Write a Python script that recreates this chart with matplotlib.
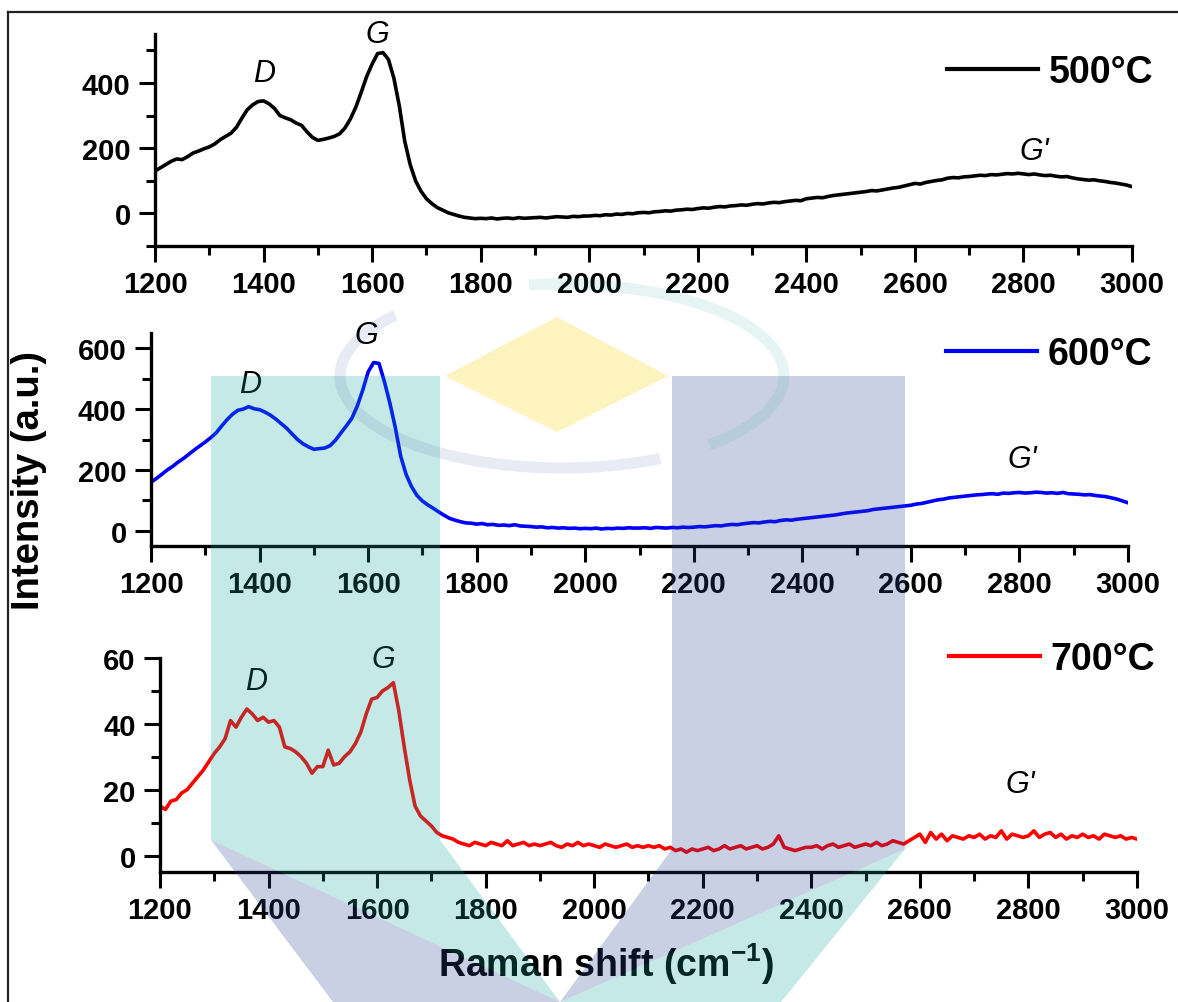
import numpy as np
import matplotlib.pyplot as plt
from matplotlib.patches import Polygon, Rectangle, Arc

plt.rcParams['font.family'] = ['Liberation Sans', 'DejaVu Sans']
plt.rcParams['mathtext.fontset'] = 'custom'
plt.rcParams['mathtext.rm'] = 'Liberation Sans:bold'
plt.rcParams['mathtext.bf'] = 'Liberation Sans:bold'

# Raman shift sampling (cm-1)
shift = np.arange(1200, 3001, 10)

# 500 C sample
t500 = [130, 140, 150, 160, 167, 165, 174, 185, 191, 198,
        204, 213, 226, 236, 246, 264, 292, 318, 333, 343,
        345, 336, 322, 300, 293, 287, 277, 270, 250, 233,
        224, 227, 231, 236, 244, 262, 290, 326, 372, 420,
        458, 490, 493, 472, 415, 330, 222, 150, 100, 68,
        45, 30, 18, 10, 2, -3, -8, -12, -14, -16,
        -15, -16, -14, -17, -15, -14, -16, -13, -15, -14,
        -13, -12, -14, -12, -10, -11, -12, -9, -10, -8,
        -8, -6, -7, -4, -5, -2, -3, 0, -1, 2,
        3, 2, 5, 6, 8, 7, 10, 11, 13, 12,
        15, 17, 16, 19, 21, 20, 23, 24, 26, 25,
        28, 30, 29, 32, 34, 33, 36, 38, 40, 39,
        45, 47, 49, 48, 52, 55, 57, 59, 61, 63,
        65, 67, 70, 69, 72, 75, 78, 80, 84, 88,
        92, 90, 95, 98, 101, 103, 108, 110, 109, 112,
        113, 115, 117, 116, 119, 118, 120, 122, 121, 123,
        121, 119, 121, 118, 116, 117, 114, 112, 113, 109,
        106, 104, 102, 103, 100, 98, 95, 93, 90, 87,
        82]

# 600 C sample
t600 = [160, 172, 186, 200, 212, 226, 238, 252, 266, 279,
        292, 306, 322, 344, 365, 383, 396, 400, 408, 401,
        398, 390, 380, 367, 352, 337, 318, 300, 286, 276,
        268, 270, 272, 280, 298, 322, 345, 370, 410, 462,
        522, 553, 550, 490, 420, 340, 245, 185, 145, 116,
        98, 85, 74, 62, 51, 41, 35, 30, 26, 25,
        22, 24, 20, 21, 18, 19, 17, 20, 16, 15,
        14, 12, 13, 10, 11, 9, 10, 8, 9, 7,
        8, 7, 9, 6, 8, 7, 9, 8, 10, 9,
        9, 10, 8, 11, 10, 9, 11, 10, 12, 11,
        12, 14, 13, 15, 17, 16, 19, 21, 20, 23,
        25, 27, 26, 29, 31, 30, 34, 36, 35, 38,
        40, 42, 44, 46, 48, 50, 52, 55, 58, 60,
        62, 64, 66, 70, 72, 74, 76, 78, 80, 82,
        84, 88, 90, 94, 98, 102, 104, 108, 110, 112,
        114, 116, 118, 119, 121, 122, 120, 124, 123, 125,
        126, 124, 125, 127, 126, 124, 125, 123, 126, 122,
        121, 120, 118, 119, 116, 114, 112, 108, 104, 98,
        92]

# 700 C sample
t700 = [15, 14, 16.5, 17, 19, 20, 22, 24, 26, 28.5,
        31, 33, 35.5, 41, 39, 42, 44.5, 43, 41, 42,
        40.5, 41, 39, 33, 32.5, 31.5, 30, 28, 25, 27,
        27, 32, 27.5, 28, 30, 31.5, 34, 37.5, 43, 47.5,
        48, 50, 51, 52.5, 44, 33, 23, 15, 12, 10.5,
        9, 7, 6, 5.5, 5, 4, 3.5, 3, 4, 3.5,
        3, 4, 3.5, 3, 4.5, 3, 3.5, 4, 3, 3.5,
        3, 3.5, 4, 3, 2.5, 3.5, 3, 4, 3, 3.5,
        3, 2.5, 3.5, 3, 2.5, 3, 3.5, 2.5, 3, 2.5,
        3, 2.5, 3, 2, 2.5, 1.5, 2, 1, 2, 1.5,
        2, 2.5, 1.5, 2, 3, 2, 2.5, 3, 2, 2.5,
        3, 2, 2.5, 3.5, 6, 2.5, 2, 1.5, 2, 2.5,
        2.5, 3, 2, 3, 3.5, 2.5, 3, 3.5, 2.5, 3,
        3.5, 3, 4, 3, 3.5, 4.5, 4, 3.5, 4.5, 5.5,
        6.5, 4, 7, 5, 6.5, 4.5, 6, 5.5, 5, 6,
        5.5, 6.5, 5, 6, 5.5, 7.5, 5, 6.5, 6, 5.5,
        6, 7.5, 5.5, 6.5, 7, 5.5, 6.5, 5, 6, 5.5,
        6.5, 5.5, 6, 5, 6.5, 6, 5.5, 6, 5, 5.5,
        5]

labels = ['500\u00b0C', '600\u00b0C', '700\u00b0C']
colors = ['black', '#0000ff', '#ff0000']
series = [t500, t600, t700]
ylims = [(-100, 550), (-50, 650), (-5, 60)]
ymajor = [200, 200, 20]
# peak annotations: (text, x, y)
peaks = [
    [('D', 1400, 430), ('G', 1610, 550), ("G'", 2820, 190)],
    [('D', 1382, 482), ('G', 1597, 643), ("G'", 2806, 236)],
    [('D', 1377, 53), ('G', 1612, 59.7), ("G'", 2785, 21.8)],
]
legend_pos = [(1.0215, 0.821), (1.0246, 0.901), (1.018, 0.995)]
rects = [[0.1316, 0.7537, 0.8294, 0.2114],
         [0.1282, 0.4546, 0.8294, 0.2124],
         [0.1358, 0.1296, 0.8294, 0.2134]]

fig = plt.figure(figsize=(11.78, 10.03), dpi=100)

for i in range(3):
    ax = fig.add_axes(rects[i])
    ax.plot(shift, series[i], color=colors[i], lw=2.6, label=labels[i])
    ax.set_xlim(1200, 3000)
    ax.set_xticks(np.arange(1200, 3001, 200))
    ax.set_xticks(np.arange(1300, 3000, 200), minor=True)
    lo, hi = ylims[i]
    ax.set_yticks(np.arange(0, hi + 1, ymajor[i]))
    ax.set_yticks(np.arange(-ymajor[i] / 2, hi + 1, ymajor[i]), minor=True)
    ax.set_ylim(lo, hi)
    for s in ['top', 'right']:
        ax.spines[s].set_visible(False)
    for s in ['left', 'bottom']:
        ax.spines[s].set_linewidth(2.4)
    ax.tick_params(which='major', direction='out', length=11.5, width=2.2,
                   labelsize=21, pad=6)
    ax.tick_params(which='minor', direction='out', length=6.5, width=2.2)
    for lab in ax.get_xticklabels() + ax.get_yticklabels():
        lab.set_fontweight('bold')
    for txt, px, py in peaks[i]:
        ax.text(px, py, txt, fontsize=22, style='italic', ha='center', va='center')
    leg = ax.legend(loc='center right', bbox_to_anchor=legend_pos[i], frameon=False,
                    handlelength=2.43, handletextpad=0.27, borderpad=0, borderaxespad=0,
                    prop={'size': 27, 'weight': 'bold'})
    for h in leg.get_lines():
        h.set_linewidth(3)

fig.text(29 / 1178, 1 - 481 / 1003, 'Intensity (a.u.)', rotation=90, fontsize=27.5,
         fontweight='bold', ha='center', va='center')
fig.text(606 / 1178, 1 - 977 / 1003, r'Raman shift (cm$^{\mathbf{-1}}$)', fontsize=27,
         fontweight='bold', ha='center', va='baseline')

# translucent logo overlay, drawn in pixel units
wm = fig.add_axes([0, 0, 1, 1], zorder=10)
wm.set_xlim(0, 1178)
wm.set_ylim(1003, 0)
wm.axis('off')
wm.patch.set_alpha(0)

teal = (16 / 255, 164 / 255, 156 / 255)
lav = (40 / 255, 68 / 255, 148 / 255)
yel = (247 / 255, 208 / 255, 0)

wm.add_patch(Rectangle((211, 377), 229, 464, color=teal, alpha=0.24, lw=0))
wm.add_patch(Polygon([(211, 841), (440, 841), (560, 1003)], color=teal, alpha=0.24, lw=0))
wm.add_patch(Polygon([(211, 841), (560, 1003), (333, 1003)], color=lav, alpha=0.25, lw=0))
wm.add_patch(Rectangle((672, 377), 233, 473, color=lav, alpha=0.25, lw=0))
wm.add_patch(Polygon([(672, 850), (905, 850), (560, 1003)], color=lav, alpha=0.25, lw=0))
wm.add_patch(Polygon([(905, 850), (781, 1003), (560, 1003)], color=teal, alpha=0.24, lw=0))
wm.add_patch(Polygon([(445, 377), (557, 318), (668, 377), (557, 433)], color=yel,
                     alpha=0.255, lw=0))
# faint ring around the diamond
wm.add_patch(Arc((562, 377), 444, 184, theta1=40, theta2=200, color=lav, alpha=0.10, lw=8))
wm.add_patch(Arc((562, 377), 444, 184, theta1=-110, theta2=25, color=teal, alpha=0.10, lw=8))

# frame lines
wm.plot([8, 8], [13, 1003], color='#222222', lw=1.6)
wm.plot([8, 1178], [13, 13], color='#222222', lw=1.6)

fig.savefig('out.png', dpi=100, facecolor='white')
